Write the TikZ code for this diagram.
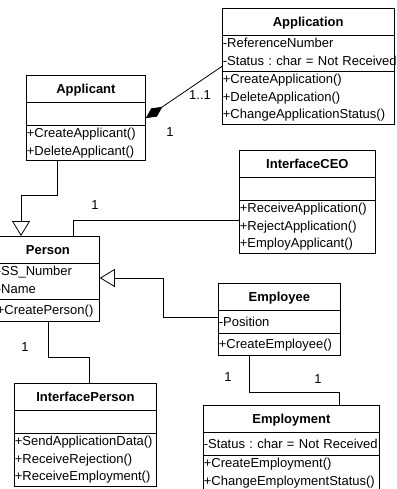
\documentclass[tikz,border=0pt]{standalone}
\usepackage{fontspec}
\setmainfont{Liberation Sans}
\usetikzlibrary{shapes,arrows.meta}
\tikzstyle{cls}=[rectangle split,rectangle split parts=3,draw=black,
  line width=0.8pt,inner xsep=0.5pt,inner ysep=0pt,align=left,anchor=north west,
  font=\fontsize{13}{17.5}\selectfont\frenchspacing]
\tikzstyle{gen}=[line width=0.8pt,-{Triangle[open,length=15pt,width=18pt]}]
\tikzstyle{comp}=[line width=0.8pt,-{Diamond[length=20pt,width=10pt]}]
\tikzstyle{asc}=[line width=0.8pt]
\tikzstyle{mult}=[inner sep=0pt,font=\fontsize{13}{15}\selectfont]
\newcommand{\clname}[1]{\makebox[\linewidth]{\rule[-8.5pt]{0pt}{26pt}\textbf{#1}}}
\newcommand{\oneline}{\rule[-6.5pt]{0pt}{22pt}}
\begin{document}
\begin{tikzpicture}[x=1pt,y=-1pt]
    \useasboundingbox (0,0) rectangle (396,489);
    \node [style=cls,text width=170.5pt] (app) at (222,8) {\clname{Application}
      \nodepart{two}\strut-ReferenceNumber\\\strut\mbox{-Status : char = Not Received}
      \nodepart{three}\strut+CreateApplication()\\\strut+DeleteApplication()\\\strut+ChangeApplicationStatus()};
    \node [style=cls,text width=118pt] (applicant) at (26,75) {\clname{Applicant}
      \nodepart{two}\oneline
      \nodepart{three}\strut+CreateApplicant()\\\strut+DeleteApplicant()};
    \node [style=cls,text width=135pt] (ceo) at (239,150) {\clname{InterfaceCEO}
      \nodepart{two}\oneline
      \nodepart{three}\strut+ReceiveApplication()\\\strut+RejectApplication()\\\strut+EmployApplicant()};
    \node [style=cls,text width=102pt] (person) at (-4,236) {\clname{Person}
      \nodepart{two}\strut-SS\_Number\\\strut-Name
      \nodepart{three}\oneline+CreatePerson()};
    \node [style=cls,text width=121pt] (employee) at (218,283) {\clname{Employee}
      \nodepart{two}\oneline-Position
      \nodepart{three}\oneline+CreateEmployee()};
    \node [style=cls,text width=141pt] (iperson) at (14,383) {\clname{InterfacePerson}
      \nodepart{two}\oneline
      \nodepart{three}\strut+SendApplicationData()\\\strut+ReceiveRejection()\\\strut+ReceiveEmployment()};
    \node [style=cls,text width=175pt] (employment) at (203,405) {\clname{Employment}
      \nodepart{two}\oneline\mbox{-Status : char = Not Received}
      \nodepart{three}\strut+CreateEmployment()\\\strut+ChangeEmploymentStatus()\rule[-12pt]{0pt}{0pt}};
    % bends
    \coordinate (c1) at (57,195);
    \coordinate (c2) at (21,195);
    \coordinate (c3) at (73,220);
    \coordinate (c4) at (163,317);
    \coordinate (c5) at (163,278);
    \coordinate (c6) at (48,357);
    \coordinate (c7) at (89,357);
    \coordinate (c8) at (249,392);
    \coordinate (c9) at (339,392);
    \draw [style=comp] (app.west) to (applicant.east);
    \draw [style=gen] (c1 |- applicant.south) -- (c1) -- (c2) -- (c2 |- person.north);
    \draw [style=asc] (c3 |- person.north) -- (c3) -- (c3 -| ceo.west);
    \draw [style=gen] (c4 -| employee.west) -- (c4) -- (c5) -- (c5 -| person.east);
    \draw [style=asc] (c6 |- person.south) -- (c6) -- (c7) -- (c7 |- iperson.north);
    \draw [style=asc] (c8 |- employee.south) -- (c8) -- (c9) -- (c9 |- employment.north);
    % multiplicities
    \node [style=mult] (m1) at (200,95) {1..1};
    \node [style=mult] (m2) at (170,132) {1};
    \node [style=mult] (m3) at (95,205) {1};
    \node [style=mult] (m4) at (25,347) {1};
    \node [style=mult] (m5) at (228,377) {1};
    \node [style=mult] (m6) at (318,379) {1};
  \end{tikzpicture}
\end{document}
